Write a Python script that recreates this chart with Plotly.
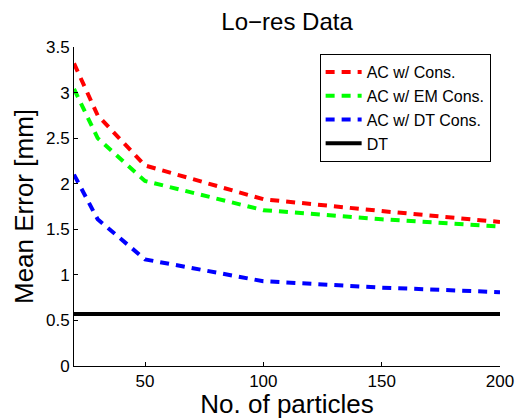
import plotly.graph_objects as go

x_particles = [20, 30, 50, 100, 150, 200]
ac_cons = [3.32, 2.75, 2.20, 1.83, 1.70, 1.58]
ac_em_cons = [3.04, 2.50, 2.03, 1.71, 1.61, 1.53]
ac_dt_cons = [2.10, 1.61, 1.17, 0.93, 0.86, 0.81]
dt_x = [20, 200]
dt_val = [0.57, 0.57]

series = [
    ("AC w/ Cons.", x_particles, ac_cons, "#ff0000", "9px,7px"),
    ("AC w/ EM Cons.", x_particles, ac_em_cons, "#00ff00", "9px,7px"),
    ("AC w/ DT Cons.", x_particles, ac_dt_cons, "#0000ff", "9px,7px"),
    ("DT", dt_x, dt_val, "#000000", "solid"),
]

font_family = "Liberation Sans, Arial, Helvetica, sans-serif"

fig = go.Figure()
for name, xs, ys, color, dash in series:
    fig.add_trace(go.Scatter(x=xs, y=ys, mode="lines", name=name,
                             line=dict(color=color, width=4, dash=dash)))

fig.update_layout(
    width=520, height=419,
    margin=dict(l=74, r=20, t=47, b=53, autoexpand=False),
    paper_bgcolor="white", plot_bgcolor="white",
    font=dict(family=font_family, color="black"),
    title=dict(text="Lo\u2212res Data", x=0.552, xanchor="center", y=0.948, yanchor="middle",
               font=dict(size=24, color="black")),
    showlegend=True,
    legend=dict(x=0.978, xanchor="right", y=0.978, yanchor="top",
                bordercolor="black", borderwidth=1, bgcolor="white",
                font=dict(size=16), tracegroupgap=0, itemwidth=36),
)
fig.update_xaxes(range=[20, 200], tickvals=[50, 100, 150, 200],
                 ticks="inside", ticklen=4, tickcolor="black",
                 showline=True, linecolor="black", linewidth=1,
                 showgrid=False, zeroline=False, mirror=False,
                 tickfont=dict(size=17),
                 title=dict(text="No. of particles", font=dict(size=26), standoff=3))
fig.update_yaxes(range=[0, 3.5], tickvals=[0, 0.5, 1, 1.5, 2, 2.5, 3, 3.5],
                 ticktext=["0", "0.5", "1", "1.5", "2", "2.5", "3", "3.5"],
                 ticks="inside", ticklen=4, tickcolor="black",
                 showline=True, linecolor="black", linewidth=1,
                 showgrid=False, zeroline=False, mirror=False,
                 tickfont=dict(size=17),
                 title=dict(text="Mean Error [mm]", font=dict(size=26), standoff=4))

fig.write_html("out.html", config={"displayModeBar": False},
               post_script="document.body.style.margin='0';document.body.style.overflow='hidden';")
